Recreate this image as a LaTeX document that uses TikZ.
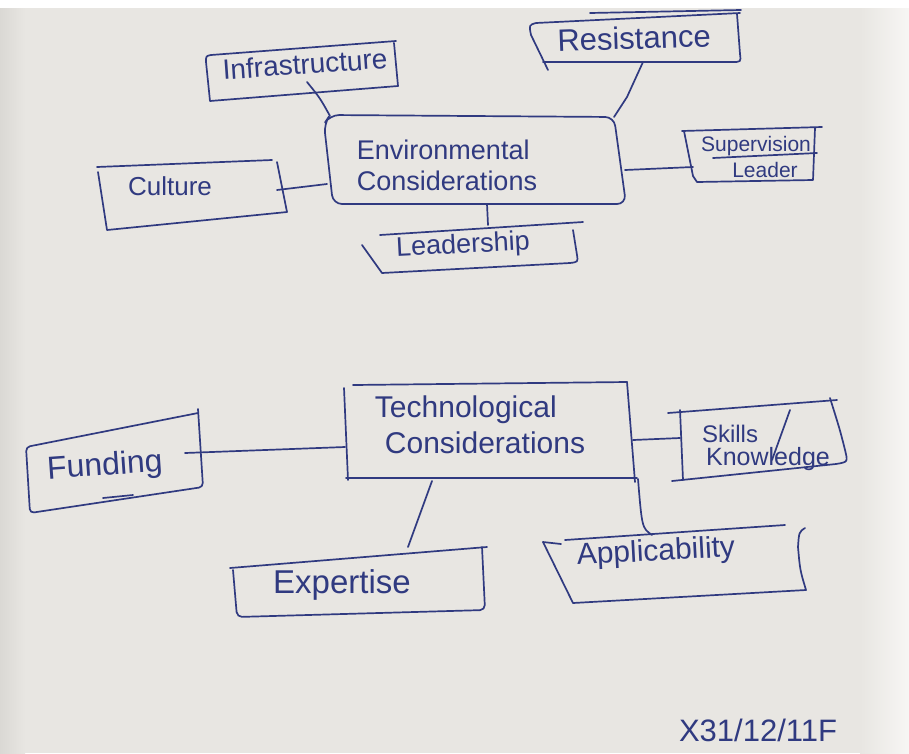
\documentclass[tikz,border=0pt]{standalone}
\usepackage{fontspec}
\setmainfont{Liberation Sans}
\usetikzlibrary{calc}
\definecolor{paper}{RGB}{232,230,226}
\definecolor{papershade}{RGB}{218,216,212}
\definecolor{paperlight}{RGB}{247,246,244}
\definecolor{ink}{RGB}{48,58,128}
\tikzset{
  pen/.style={draw=ink, line width=1.7pt, line cap=round, line join=round},
  link/.style={pen},
  label/.style={text=ink, inner sep=0pt, font=\fontsize{#1}{#1}\selectfont},
  label/.default=28,
}
\begin{document}
\begin{tikzpicture}[x=1pt, y=-1pt]
  % sheet of paper
  \useasboundingbox (0,0) rectangle (909,753);
  \fill[white] (0,0) rectangle (909,753);
  \fill[paper] (0,8) rectangle (909,753);
  \shade[left color=papershade, right color=paper] (0,8) rectangle (25,753);
  \shade[left color=paper, right color=paperlight] (860,8) rectangle (909,753);

  % ---------- Environmental considerations ----------
  \node[label=27, align=left] (env) at (447,165)
    {Environmental\\[4pt]Considerations};
  \draw[pen, rounded corners=9pt]
    (330,115) -- (614,117) -- (626,204) -- (333,204) -- (324,124) -- cycle;
  \coordinate (env-top-l) at (330,116);
  \coordinate (env-top-r) at (614,117);
  \coordinate (env-left)  at (327,184);
  \coordinate (env-right) at (625,170);
  \coordinate (env-bot)   at (487,204);

  % Infrastructure
  \node[label=28, rotate=4] (infra) at (305,64) {Infrastructure};
  \draw[pen] (396,41) -- (211,55) .. controls (206,56) .. (206,62) -- (210,101)
             -- (398,86) -- (394,43);
  \coordinate (infra-tail) at (307,82);
  \draw[link] (infra-tail) .. controls (320,98) .. (env-top-l);

  % Resistance
  \node[label=31, rotate=2] (res) at (634,38) {Resistance};
  \draw[pen] (740,13) -- (536,23) .. controls (529,25) .. (531,35) -- (548,70);
  \draw[pen] (590,13) -- (741,10);
  \draw[pen] (543,62) -- (732,62) .. controls (741,62) .. (740,54) -- (737,14);
  \coordinate (res-tail) at (643,62);
  \draw[link] (res-tail) -- (627,97) -- (env-top-r);

  % Culture
  \node[label=26] (cult) at (170,186) {Culture};
  \draw[pen] (97,167) -- (272,160);
  \draw[pen] (98,172) -- (107,230) -- (287,212) -- (277,162);
  \coordinate (cult-tail) at (277,190);
  \draw[link] (cult-tail) -- (env-left);

  % Supervision / Leader
  \node[label=21] (sup) at (756,146) {Supervision};
  \node[label=21] (lead2) at (765,170) {Leader};
  \draw[pen] (682,131) -- (822,127);
  \draw[pen] (684,131) -- (693,176) -- (697,182) -- (813,180) -- (815,128);
  \draw[pen] (713,158) -- (817,153);
  \coordinate (sup-tail) at (693,167);
  \draw[link] (env-right) -- (sup-tail);

  % Leadership
  \node[label=27, rotate=3] (lead) at (463,246) {Leadership};
  \draw[pen] (380,235) -- (583,222);
  \draw[pen] (362,245) -- (382,273) -- (570,263)
             .. controls (578,262) .. (577,255) -- (573,230);
  \coordinate (lead-tail) at (488,225);
  \draw[link] (env-bot) -- (lead-tail);

  % ---------- Technological considerations ----------
  \node[label=30, align=left] (tech) at (480,425)
    {Technological\\[6pt]\hspace*{10pt}Considerations};
  \draw[pen] (353,385) -- (627,382);
  \draw[pen] (344,388) -- (348,480);
  \draw[pen] (346,478) -- (637,478);
  \draw[pen] (627,382) -- (635,482);
  \coordinate (tech-left)  at (345,447);
  \coordinate (tech-right) at (633,440);
  \coordinate (tech-bot-l) at (432,481);
  \coordinate (tech-bot-r) at (638,479);

  % Funding
  \node[label=32, rotate=4] (fund) at (105,467) {Funding};
  \draw[pen, rounded corners=4pt] (198,413) -- (26,447) -- (30,513) -- (203,487) -- (198,409);
  \draw[pen] (103,498) -- (133,495);
  \coordinate (fund-tail) at (185,453);
  \draw[link] (fund-tail) -- (tech-left);

  % Skills / Knowledge
  \node[label=24] (skill) at (730,434) {Skills};
  \node[label=25] (know) at (768,459) {Knowledge};
  \draw[pen] (668,413) -- (837,400);
  \draw[pen] (830,398) .. controls (840,430) .. (845,450)
             .. controls (848,462) .. (836,464) -- (672,481);
  \draw[pen] (680,410) -- (683,480);
  \draw[pen] (790,410) -- (772,460);
  \coordinate (skill-tail) at (680,438);
  \draw[link] (tech-right) -- (skill-tail);

  % Expertise
  \node[label=33] (exp) at (342,585) {Expertise};
  \draw[pen] (230,568) -- (487,547);
  \draw[pen, rounded corners=5pt] (233,570) -- (237,617) -- (485,610) -- (482,547);
  \coordinate (exp-tail) at (408,547);
  \draw[link] (tech-bot-l) -- (exp-tail);

  % Applicability
  \node[label=30, rotate=3] (app) at (656,553) {Applicability};
  \draw[pen] (565,540) -- (785,525);
  \draw[pen] (543,542) -- (561,544);
  \draw[pen] (543,542) -- (573,603) -- (806,590)
             .. controls (800,570) .. (798,547) .. controls (799,532) .. (805,528);
  \coordinate (app-tail) at (652,535);
  \draw[link] (tech-bot-r) .. controls (642,528) .. (app-tail);

  % initials and date
  \node[label=31] (sig) at (758,730) {X31/12/11F};
\end{tikzpicture}
\end{document}
